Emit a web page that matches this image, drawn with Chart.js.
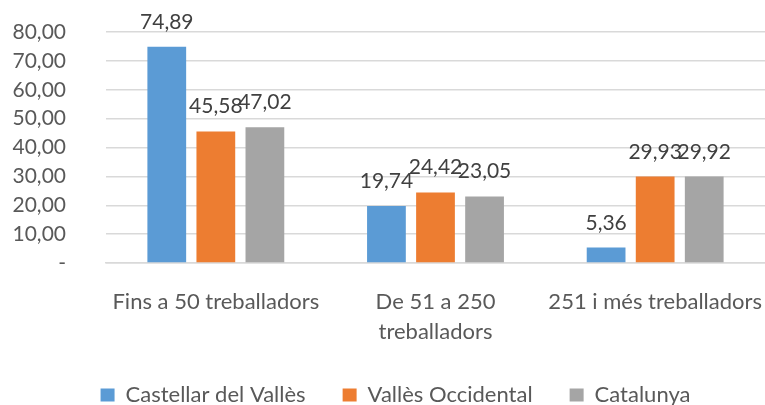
<!DOCTYPE html>
<html>
<head>
<meta charset="utf-8">
<script src="https://cdn.jsdelivr.net/npm/chart.js@4/dist/chart.umd.min.js"></script>
<style>
  html, body { margin: 0; padding: 0; background: #fff; }
  #wrap { width: 765px; height: 405px; position: relative; }
</style>
</head>
<body>
<div id="wrap"><canvas id="grafic"></canvas></div>
<script>
// Dades: pes de l'ocupació per mida d'empresa (%)
const categories = ['Fins a 50 treballadors', ['De 51 a 250', 'treballadors'], '251 i més treballadors'];
const series = ['Castellar del Vallès', 'Vallès Occidental', 'Catalunya'];
const castellar = [74.89, 19.74, 5.36];
const valles = [45.58, 24.42, 29.93];
const catalunya = [47.02, 23.05, 29.92];
const colors = ['#5B9BD5', '#ED7D31', '#A5A5A5'];
const yMax = 80;
const yStep = 10;

const FONT = 'Lato, "Open Sans", sans-serif';

const fmt = v => v.toFixed(2).replace('.', ',');

// etiquetes de valor sobre cada barra
const valueLabels = {
    id: 'valueLabels',
    afterDatasetsDraw(chart) {
        const ctx = chart.ctx;
        ctx.save();
        ctx.font = '21px ' + FONT;
        ctx.fillStyle = '#404040';
        ctx.textAlign = 'center';
        ctx.textBaseline = 'alphabetic';
        chart.data.datasets.forEach((ds, i) => {
            chart.getDatasetMeta(i).data.forEach((bar, j) => {
                ctx.fillText(fmt(ds.data[j]), bar.x, bar.y - 18);
            });
        });
        ctx.restore();
    }
};

// llegenda més avall i una mica desplaçada a la dreta
const legendTight = {
    id: 'legendTight',
    beforeLayout(chart) {
        const lg = chart.legend;
        if (!lg || lg._tight) return;
        const fit = lg.fit;
        lg.fit = function() {
            fit.call(this);
            this.height -= 11;
        };
        lg._tight = true;
    },
    afterLayout(chart) {
        const lg = chart.legend;
        if (!lg) return;
        lg.left += 7;
        lg.right += 7;
    }
};

new Chart(document.getElementById('grafic'), {
    type: 'bar',
    data: {
        labels: categories,
        datasets: [castellar, valles, catalunya].map((d, i) => ({
            label: series[i],
            data: d,
            backgroundColor: colors[i],
            categoryPercentage: 0.67,
            barPercentage: 0.79
        }))
    },
    options: {
        responsive: true,
        maintainAspectRatio: false,
        animation: false,
        layout: { padding: { top: 32, left: 12, right: 0, bottom: 0 } },
        plugins: {
            legend: {
                position: 'bottom',
                labels: {
                    boxWidth: 14,
                    boxHeight: 13,
                    padding: 37,
                    color: '#595959',
                    font: { family: FONT, size: 22 }
                }
            },
            tooltip: { enabled: false }
        },
        scales: {
            y: {
                min: 0,
                max: yMax,
                ticks: {
                    stepSize: yStep,
                    autoSkip: false,
                    color: '#595959',
                    padding: 40,
                    font: { family: FONT, size: 21 },
                    callback: v => v === 0 ? '-' : fmt(v)
                },
                grid: { color: '#D9D9D9', lineWidth: 1.5, drawTicks: false },
                border: { display: false },
                afterFit: s => {
                    s.width = 94;
                    s.paddingTop = 13;
                    s.paddingBottom = 13;
                }
            },
            x: {
                ticks: {
                    color: '#595959',
                    padding: 24,
                    maxRotation: 0,
                    autoSkip: false,
                    font: { family: FONT, size: 22, lineHeight: 1.37 }
                },
                grid: { display: false, drawTicks: false },
                border: { color: '#D9D9D9', width: 1.5 },
                afterFit: s => {
                    s.height = 84;
                    s.paddingLeft = 0;
                    s.paddingRight = 0;
                }
            }
        }
    },
    plugins: [valueLabels, legendTight]
});
</script>
</body>
</html>
